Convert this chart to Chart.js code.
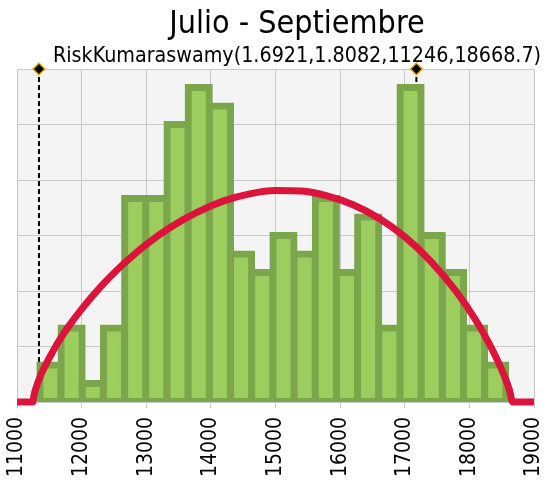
<!DOCTYPE html>
<html>
<head>
<meta charset="utf-8">
<script src="https://cdn.jsdelivr.net/npm/chart.js@4.4.1/dist/chart.umd.min.js"></script>
<style>
  html, body { margin: 0; padding: 0; background: #ffffff; }
  #wrap { width: 547px; height: 480px; }
</style>
</head>
<body>
<div id="wrap"><canvas id="histo" width="547" height="480"></canvas></div>
<script>
// datos
const chartTitle = "Julio - Septiembre";
const chartSubtitle = "RiskKumaraswamy(1.6921,1.8082,11246,18668.7)";

const binCenters = [11517, 11845, 12173, 12501, 12829, 13156, 13484, 13812, 14140, 14468, 14795,
  15123, 15451, 15779, 16107, 16434, 16762, 17090, 17418, 17746, 18073, 18401];
const binCounts = [2, 4, 1, 4, 11, 11, 15, 17, 16, 8, 7, 9, 8, 11, 7, 10, 4, 17, 9, 7, 4, 2];

const curveX = [11000, 11246, 11260, 11300, 11350, 11400, 11600, 11800, 12000, 12300, 12600, 13000,
  13400, 13800, 14200, 14600, 15000, 15400, 15800, 16200, 16600, 17000, 17400, 17800, 18100,
  18300, 18450, 18550, 18620, 18669, 19000];
const curveY = [0, 0, 0.32, 0.82, 1.30, 1.70, 3.01, 4.09, 5.02, 6.25, 7.31, 8.52,
  9.50, 10.28, 10.87, 11.25, 11.43, 11.40, 11.14, 10.66, 9.93, 8.93, 7.62, 5.96, 4.42,
  3.20, 2.14, 1.32, 0.65, 0, 0];

const markerLeft = 11340;
const markerRight = 17180;

const xTicks = [11000, 12000, 13000, 14000, 15000, 16000, 17000, 18000, 19000];
const yMax = 18;

const FONT = "'DejaVu Sans Condensed', 'DejaVu Sans', sans-serif";

const plotBg = {
  id: "plotBg",
  beforeDraw(chart) {
    const { ctx, chartArea: a } = chart;
    ctx.save();
    ctx.fillStyle = "#f4f4f4";
    ctx.fillRect(a.left, a.top, a.right - a.left, a.bottom - a.top);
    ctx.restore();
  }
};

const titles = {
  id: "titles",
  afterDraw(chart) {
    const ctx = chart.ctx;
    ctx.save();
    ctx.fillStyle = "#000000";
    ctx.textAlign = "center";
    ctx.textBaseline = "alphabetic";
    ctx.font = "32px " + FONT;
    ctx.fillText(chartTitle, 297, 33);
    ctx.font = "21.3px " + FONT;
    ctx.fillText(chartSubtitle, 297, 62);
    ctx.restore();
  }
};

function markerSet(xv) {
  return {
    type: "line",
    data: [{ x: xv, y: 0 }, { x: xv, y: yMax }],
    borderColor: "#000000",
    borderWidth: 2,
    borderDash: [5, 3],
    pointRadius: [0, 6],
    pointStyle: "rectRot",
    pointBackgroundColor: "#000000",
    pointBorderColor: "#e8b400",
    pointBorderWidth: 1.5,
    clip: false,
    order: 3
  };
}

new Chart(document.getElementById("histo"), {
  data: {
    datasets: [
      {
        type: "line",
        data: curveX.map((x, i) => ({ x: x, y: curveY[i] })),
        borderColor: "#dc143c",
        borderWidth: 7,
        pointRadius: 0,
        cubicInterpolationMode: "monotone",
        borderJoinStyle: "round",
        clip: false,
        order: 1
      },
      {
        type: "bar",
        data: binCenters.map((x, i) => ({ x: x, y: binCounts[i] })),
        backgroundColor: "rgba(158, 210, 98, 0.9)",
        borderColor: "#7ba64c",
        borderWidth: 7,
        borderSkipped: false,
        inflateAmount: 3.5,
        barPercentage: 1,
        categoryPercentage: 1,
        clip: 0,
        order: 2
      },
      markerSet(markerLeft),
      markerSet(markerRight)
    ]
  },
  options: {
    responsive: false,
    animation: false,
    devicePixelRatio: 1,
    layout: { padding: { left: 17, right: 13, top: 69, bottom: 0 } },
    plugins: {
      legend: { display: false },
      tooltip: { enabled: false }
    },
    scales: {
      x: {
        type: "linear",
        offset: false,
        min: xTicks[0],
        max: xTicks[xTicks.length - 1],
        afterBuildTicks: s => { s.ticks = xTicks.map(v => ({ value: v })); },
        afterFit: s => {
          s.height = 78;
          s.paddingLeft = 0;
          s.paddingRight = 0;
        },
        grid: { color: "#c8c8c8", lineWidth: 1, tickLength: 6, drawTicks: true, offset: false },
        border: { display: false },
        ticks: {
          minRotation: 90,
          maxRotation: 90,
          padding: 9,
          color: "#000000",
          font: { family: FONT, size: 21 },
          callback: v => String(v)
        }
      },
      y: {
        min: 0,
        max: yMax,
        ticks: { display: false, stepSize: 3 },
        afterFit: s => { s.width = 0; },
        grid: { color: "#c8c8c8", lineWidth: 1, drawTicks: false },
        border: { display: false }
      }
    }
  },
  plugins: [plotBg, titles]
});
</script>
</body>
</html>
